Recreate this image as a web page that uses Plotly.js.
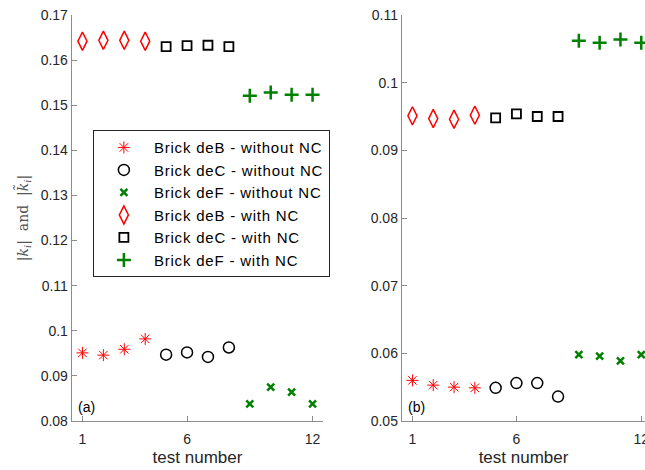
<!DOCTYPE html>
<html>
<head>
<meta charset="utf-8">
<script src="https://cdn.plot.ly/plotly-3.0.1.min.js"></script>
<style>
html,body{margin:0;padding:0;background:#fff}
#plot{width:645px;height:470px}
.legendtext{letter-spacing:0.8px}
</style>
</head>
<body>
<div id="plot"></div>
<script>
// test numbers
const testB = [1, 2, 3, 4];
const testC = [5, 6, 7, 8];
const testF = [9, 10, 11, 12];

// panel (a)
const aB_without = [0.0951, 0.0946, 0.0959, 0.0982];
const aC_without = [0.0947, 0.0952, 0.0942, 0.0963];
const aF_without = [0.0838, 0.0875, 0.0864, 0.0838];
const aB_with = [0.1642, 0.1644, 0.1644, 0.1642];
const aC_with = [0.1630, 0.1632, 0.1633, 0.1630];
const aF_with = [0.1521, 0.1528, 0.1523, 0.1523];

// panel (b)
const bB_without = [0.0560, 0.0553, 0.0550, 0.0549];
const bC_without = [0.0549, 0.0556, 0.0556, 0.0536];
const bF_without = [0.0598, 0.0596, 0.0589, 0.0598];
const bB_with = [0.0951, 0.0947, 0.0946, 0.0952];
const bC_with = [0.0948, 0.0954, 0.0950, 0.0950];
const bF_with = [0.1062, 0.1059, 0.1064, 0.1059];

const seriesNames = ['Brick deB - without NC', 'Brick deC - without NC', 'Brick deF - without NC',
                     'Brick deB - with NC', 'Brick deC - with NC', 'Brick deF - with NC'];

const xTickVals = [1, 6, 12];
const xTickText = ['1', '6', '12'];
const aYTickVals = [0.08, 0.09, 0.1, 0.11, 0.12, 0.13, 0.14, 0.15, 0.16, 0.17];
const aYTickText = ['0.08', '0.09', '0.1', '0.11', '0.12', '0.13', '0.14', '0.15', '0.16', '0.17'];
const bYTickVals = [0.05, 0.06, 0.07, 0.08, 0.09, 0.1, 0.11];
const bYTickText = ['0.05', '0.06', '0.07', '0.08', '0.09', '0.1', '0.11'];

const RED = '#ff0000', BLACK = '#000000', GREEN = '#008000';
const styles = [
  {symbol: 'asterisk-open', size: 10, color: RED, line: {color: RED, width: 1}},
  {symbol: 'circle-open', size: 11, color: BLACK, line: {color: BLACK, width: 1.5}},
  {symbol: 'x-thin-open', size: 7, color: GREEN, line: {color: GREEN, width: 2.5}},
  {symbol: 'diamond-tall-open', size: 13, color: RED, line: {color: RED, width: 1.5}},
  {symbol: 'square-open', size: 9, color: BLACK, line: {color: BLACK, width: 1.8}},
  {symbol: 'cross-thin-open', size: 10, color: GREEN, line: {color: GREEN, width: 2.5}}
];

const aData = [aB_without, aC_without, aF_without, aB_with, aC_with, aF_with];
const bData = [bB_without, bC_without, bF_without, bB_with, bC_with, bF_with];
const xs = [testB, testC, testF, testB, testC, testF];

const traces = [];
aData.forEach((ys, i) => traces.push({
  x: xs[i], y: ys, type: 'scatter', mode: 'markers', name: seriesNames[i],
  marker: styles[i], xaxis: 'x', yaxis: 'y', showlegend: true
}));
bData.forEach((ys, i) => traces.push({
  x: xs[i], y: ys, type: 'scatter', mode: 'markers', name: seriesNames[i],
  marker: styles[i], xaxis: 'x2', yaxis: 'y2', showlegend: false
}));

const axisCommon = {
  showline: true, linecolor: '#8c8c8c', linewidth: 1.3, mirror: false,
  ticks: 'inside', ticklen: 5, tickcolor: '#8c8c8c', tickwidth: 1,
  showgrid: false, zeroline: false, ticklabeloverflow: 'allow',
  tickfont: {family: 'Liberation Sans, Arial, sans-serif', size: 14, color: '#262626'}
};
const titleFont = {family: 'Liberation Sans, Arial, sans-serif', size: 17, color: '#262626'};

const layout = {
  width: 645, height: 470,
  margin: {l: 0, r: 0, t: 0, b: 0},
  paper_bgcolor: '#fff', plot_bgcolor: '#fff',
  showlegend: true,
  legend: {
    x: 0.144, y: 0.723, xanchor: 'left', yanchor: 'top',
    bgcolor: '#fff', bordercolor: '#262626', borderwidth: 1,
    font: {family: 'Liberation Sans, Arial, sans-serif', size: 15, color: '#000'},
    itemwidth: 50
  },
  xaxis: Object.assign({}, axisCommon, {
    domain: [0.1116, 0.5008], range: [0.5, 12.5], anchor: 'y',
    tickvals: xTickVals, ticktext: xTickText, ticklabelstandoff: 5,
    title: {text: 'test number', font: titleFont, standoff: 5}
  }),
  yaxis: Object.assign({}, axisCommon, {
    domain: [0.1043, 0.968], range: [0.08, 0.17], anchor: 'x',
    tickvals: aYTickVals, ticktext: aYTickText,
    title: {text: '|<i>k<sub>i</sub></i>|  and  |<i>k̃<sub>i</sub></i>|',
            font: {family: 'DejaVu Serif, Liberation Serif, serif', size: 14, color: '#555'}, standoff: 8}
  }),
  xaxis2: Object.assign({}, axisCommon, {
    domain: [0.6233, 1.0], range: [0.5, 12.18], anchor: 'y2',
    tickvals: xTickVals, ticktext: xTickText, ticklabelstandoff: 5,
    title: {text: 'test number', font: titleFont, standoff: 5}
  }),
  yaxis2: Object.assign({}, axisCommon, {
    domain: [0.1043, 0.968], range: [0.05, 0.11], anchor: 'x2',
    tickvals: bYTickVals, ticktext: bYTickText
  }),
  annotations: [
    {text: '(a)', xref: 'paper', yref: 'paper', x: 0.118, y: 0.134, xanchor: 'left', yanchor: 'middle',
     showarrow: false, font: {family: 'Liberation Sans, Arial, sans-serif', size: 14, color: '#000'}},
    {text: '(b)', xref: 'paper', yref: 'paper', x: 0.629, y: 0.134, xanchor: 'left', yanchor: 'middle',
     showarrow: false, font: {family: 'Liberation Sans, Arial, sans-serif', size: 14, color: '#000'}}
  ]
};

Plotly.newPlot('plot', traces, layout, {displayModeBar: false, staticPlot: true});
</script>
</body>
</html>
